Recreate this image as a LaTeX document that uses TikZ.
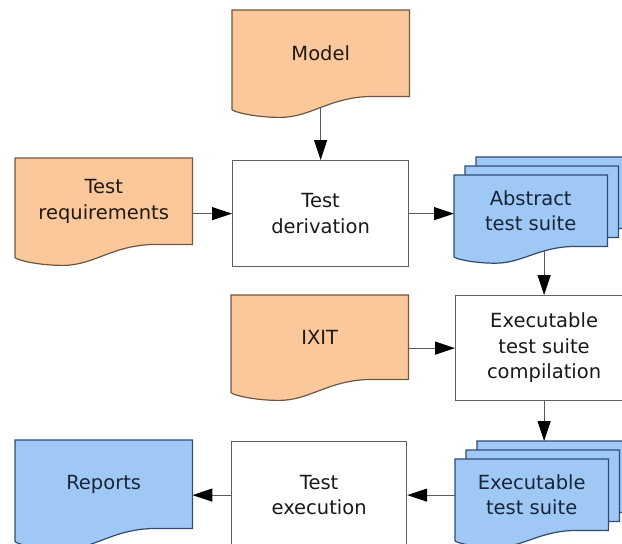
\documentclass[tikz,border=0pt]{standalone}
\usepackage{fontspec}
\setmainfont{DejaVu Sans}
\usetikzlibrary{calc,arrows.meta}

\definecolor{docorange}{RGB}{250,200,155}
\definecolor{docbrown}{RGB}{115,85,60}
\definecolor{docblue}{RGB}{160,200,245}
\definecolor{docnavy}{RGB}{45,75,115}

\pgfdeclarelayer{behind}
\pgfdeclarelayer{background}
\pgfsetlayers{behind,background,main}

% document outline with a wavy bottom: node, wave depth, offset
\newcommand{\docpath}[3]{%
  ($(#1.north west)+(#3)$) -- ($(#1.north east)+(#3)$) -- ($(#1.south east)+(#3)$)
  -- ($(#1.south west)!0.8!(#1.south east)+(#3)$)
  .. controls ($(#1.south west)!0.55!(#1.south east)+(#3)$) and ($(#1.south west)!0.45!(#1.south east)+(#3)+(0,-#2*21pt)$)
  .. ($(#1.south west)!0.27!(#1.south east)+(#3)+(0,-#2*21pt)$)
  .. controls ($(#1.south west)!0.12!(#1.south east)+(#3)+(0,-#2*21pt)$) and ($(#1.south west)+(#3)+(0,-#2*15pt)$)
  .. ($(#1.south west)+(#3)+(0,-#2*13pt)$) -- cycle}

\tikzset{
  boxfont/.style={font=\fontsize{19.5}{25.5}\selectfont},
  proc/.style={boxfont, draw=gray!75!black, fill=white, line width=1.2pt, anchor=north west,
    minimum width=176pt, minimum height=106pt, align=center, text=black!90},
  docnode/.style={boxfont, anchor=north west, minimum width=177pt, minimum height=86pt, align=center},
  stacknode/.style={docnode, minimum width=153pt, minimum height=71pt},
  orangedoc/.style={fill=docorange, draw=docbrown, line width=1.2pt},
  bluedoc/.style={fill=docblue, draw=docnavy, line width=1.2pt},
  link/.style={draw=gray!70!black, line width=1.2pt, -{Triangle[length=20pt,width=13pt,color=black]}}
}

\begin{document}
\begin{tikzpicture}[x=1pt,y=-1pt]
\useasboundingbox (0,0) rectangle (622,544);

\node (model) [docnode, text=docbrown!30!black] at (232,10) {Model};
\node (req) [docnode, text=docbrown!30!black] at (15,158) {Test\\requirements};
\node (deriv) [proc] at (232,160) {Test\\derivation};
\node (abstract) [stacknode, text=docnavy!50!black] at (454,175) {Abstract\\test suite};
\node (ixit) [docnode, text=docbrown!30!black, minimum height=84pt] at (231,295) {IXIT};
\node (compile) [proc, minimum width=177pt, minimum height=105pt] at (455,295) {Executable\\test suite\\compilation};
\node (exec) [stacknode, text=docnavy!50!black] at (455,459) {Executable\\test suite};
\node (execution) [proc, minimum width=175pt, minimum height=107pt] at (231,441) {Test\\execution};
\node (reports) [docnode, text=docnavy!50!black, minimum height=88pt] at (15,440) {Reports};

\begin{pgfonlayer}{background}
\foreach \n in {model,req,ixit}
  \filldraw[orangedoc] \docpath{\n}{1}{0pt,0pt};
\filldraw[bluedoc] \docpath{reports}{1}{0pt,0pt};
\foreach \n in {abstract,exec}
  \foreach \s in {2,1,0}
    \filldraw[bluedoc] \docpath{\n}{0.8}{\s*11pt,\s*9pt};
\end{pgfonlayer}

\begin{pgfonlayer}{behind}
\draw[link] (model.south -| deriv) -- (deriv);
\draw[link] (req.east |- deriv) -- (deriv);
\draw[link] (deriv) -- (deriv -| abstract.west);
\draw[link] (abstract.south -| compile) -- (compile);
\draw[link] (ixit.east |- compile) -- (compile);
\draw[link] (compile) -- ($(exec.north -| compile)+(0,18pt)$);
\draw[link] (exec.west |- execution) -- (execution);
\draw[link] (execution) -- (execution -| reports.east);
\end{pgfonlayer}
\end{tikzpicture}
\end{document}
